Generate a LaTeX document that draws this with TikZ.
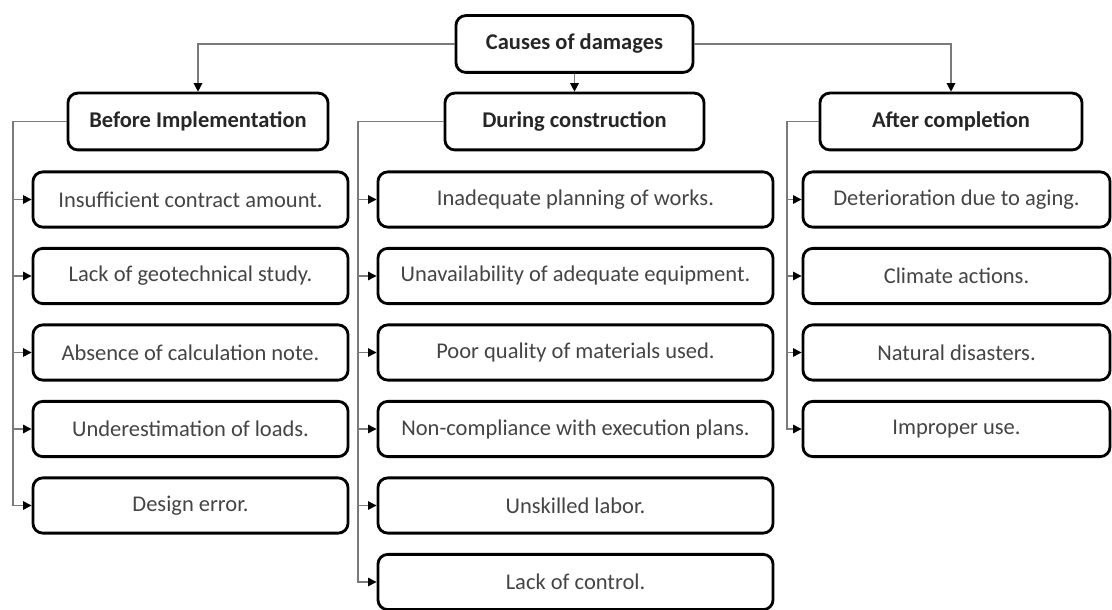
\documentclass[tikz,border=0pt]{standalone}
\usepackage{fontspec}
\setmainfont{Carlito}
\usetikzlibrary{arrows.meta}
\definecolor{linegray}{HTML}{7A7A7A}
\definecolor{itemtext}{HTML}{444444}

\begin{document}
\begin{tikzpicture}[x=0.025cm, y=-0.025cm,
    box/.style = {draw, line width=2pt, rounded corners=7pt, minimum height=1.38cm, inner sep=0pt, font=\fontsize{16}{19}\selectfont, text=itemtext},
    head/.style = {box, minimum height=1.42cm, font=\fontsize{16}{19}\selectfont\bfseries, text=black!85},
    link/.style = {draw=linegray, line width=0.9pt, -{Triangle[length=6pt, width=6pt, color=black]}}]
    \useasboundingbox (0,0) rectangle (1112,610);
    % top levels
    \node[head, minimum width=5.925cm] (root) at (574.5,44) {Causes of damages};
    \node[head, minimum width=6.5cm] (before) at (198,121.5) {Before Implementation};
    \node[head, minimum width=6.475cm] (during) at (574.5,121.5) {During construction};
    \node[head, minimum width=6.55cm] (after) at (951,121.5) {After completion};
    \draw[link] (root.west) -| (before.north);
    \draw[link] (root.south) -- (during.north);
    \draw[link] (root.east) -| (after.north);
    % before implementation
    \node[box, minimum width=7.875cm] (b1) at (190.5,199.5) {Insufficient contract amount.};
    \node[box, minimum width=7.875cm] (b2) at (190.5,276) {Lack of geotechnical study.};
    \node[box, minimum width=7.875cm] (b3) at (190.5,352.5) {Absence of calculation note.};
    \node[box, minimum width=7.875cm] (b4) at (190.5,429) {Underestimation of loads.};
    \node[box, minimum width=7.875cm] (b5) at (190.5,505.5) {Design error.};
    % during construction
    \node[box, minimum width=9.875cm] (d1) at (575.5,199.5) {Inadequate planning of works.};
    \node[box, minimum width=9.875cm] (d2) at (575.5,276) {Unavailability of adequate equipment.};
    \node[box, minimum width=9.875cm] (d3) at (575.5,352.5) {Poor quality of materials used.};
    \node[box, minimum width=9.875cm] (d4) at (575.5,429) {Non-compliance with execution plans.};
    \node[box, minimum width=9.875cm] (d5) at (575.5,505.5) {Unskilled labor.};
    \node[box, minimum width=9.875cm] (d6) at (575.5,582) {Lack of control.};
    % after completion
    \node[box, minimum width=7.675cm] (a1) at (956.5,199.5) {Deterioration due to aging.};
    \node[box, minimum width=7.675cm] (a2) at (956.5,276) {Climate actions.};
    \node[box, minimum width=7.675cm] (a3) at (956.5,352.5) {Natural disasters.};
    \node[box, minimum width=7.675cm] (a4) at (956.5,429) {Improper use.};
    % branch lines
    \coordinate (bt) at (13,121.5);
    \coordinate (dt) at (358,121.5);
    \coordinate (at) at (787,121.5);
    \draw[link] (before.west) -- (bt) |- (b1.west);
    \draw[link] (before.west) -- (bt) |- (b2.west);
    \draw[link] (before.west) -- (bt) |- (b3.west);
    \draw[link] (before.west) -- (bt) |- (b4.west);
    \draw[link] (before.west) -- (bt) |- (b5.west);
    \draw[link] (during.west) -- (dt) |- (d1.west);
    \draw[link] (during.west) -- (dt) |- (d2.west);
    \draw[link] (during.west) -- (dt) |- (d3.west);
    \draw[link] (during.west) -- (dt) |- (d4.west);
    \draw[link] (during.west) -- (dt) |- (d5.west);
    \draw[link] (during.west) -- (dt) |- (d6.west);
    \draw[link] (after.west) -- (at) |- (a1.west);
    \draw[link] (after.west) -- (at) |- (a2.west);
    \draw[link] (after.west) -- (at) |- (a3.west);
    \draw[link] (after.west) -- (at) |- (a4.west);
\end{tikzpicture}
\end{document}
